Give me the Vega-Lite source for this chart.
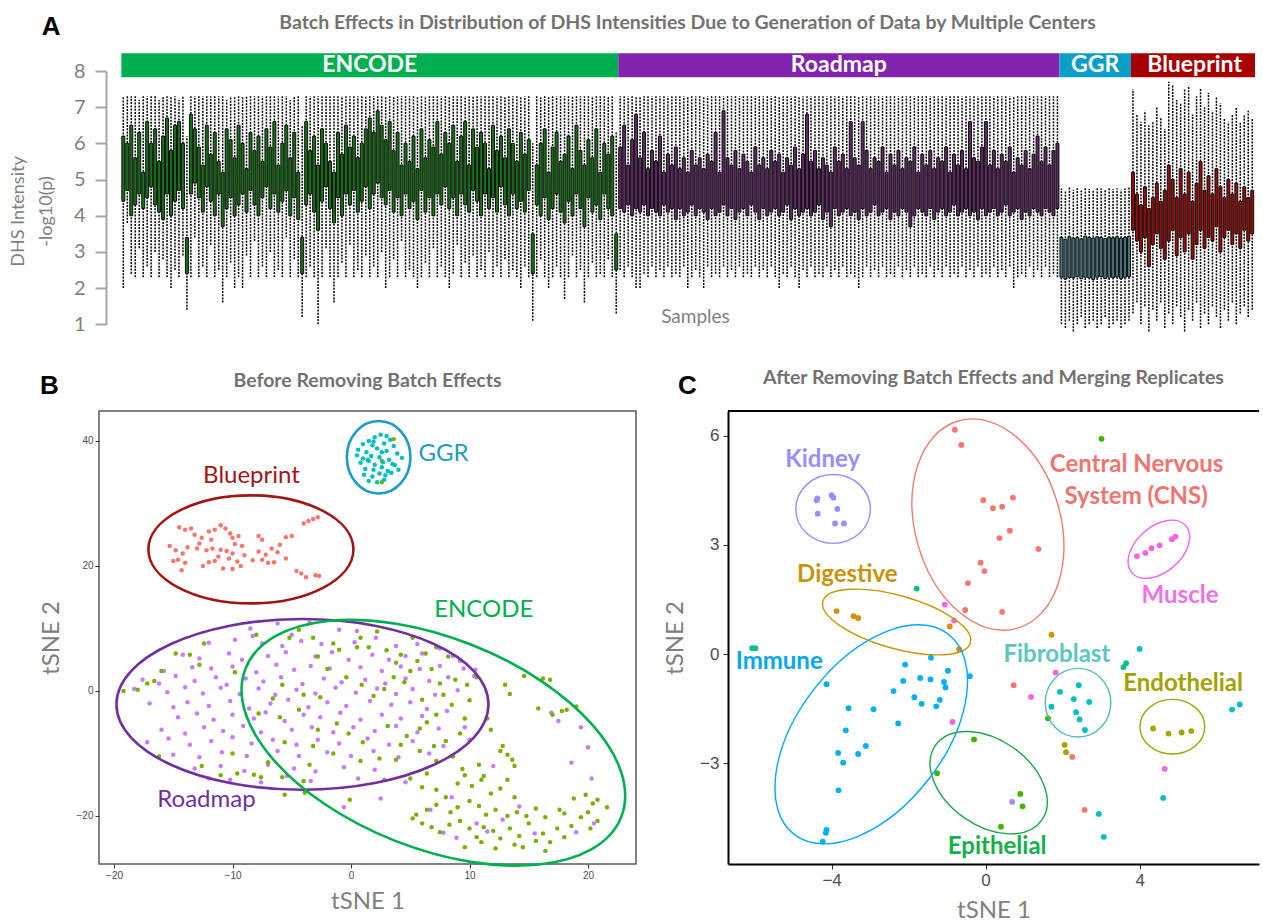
{
"$schema": "https://vega.github.io/schema/vega-lite/v6.json",
"padding": {"left": 9, "top": 12, "right": 0, "bottom": 0},
"background": "white",
"config": {"view": {"stroke": null}, "font": "Lato", "axis": {"grid": false, "labelOverlap": false}},
"datasets": {
"samples": [
{"s":1,"g":"ENCODE","lo":2.0,"q1":4.4,"q3":6.2,"hi":7.3},{"s":2,"g":"ENCODE","lo":3.8,"q1":4.7,"q3":6.0,"hi":7.3},{"s":3,"g":"ENCODE","lo":2.4,"q1":4.0,"q3":6.5,"hi":7.3},{"s":4,"g":"ENCODE","lo":2.3,"q1":4.3,"q3":5.6,"hi":7.3},{"s":5,"g":"ENCODE","lo":3.1,"q1":4.6,"q3":6.3,"hi":7.2},{"s":6,"g":"ENCODE","lo":2.3,"q1":4.2,"q3":5.2,"hi":7.3},{"s":7,"g":"ENCODE","lo":2.6,"q1":4.5,"q3":6.6,"hi":7.3},{"s":8,"g":"ENCODE","lo":2.3,"q1":4.8,"q3":6.0,"hi":7.3},{"s":9,"g":"ENCODE","lo":3.0,"q1":4.3,"q3":6.4,"hi":7.3},{"s":10,"g":"ENCODE","lo":2.3,"q1":4.1,"q3":5.5,"hi":7.2},
{"s":11,"g":"ENCODE","lo":2.8,"q1":3.9,"q3":6.2,"hi":7.3},{"s":12,"g":"ENCODE","lo":2.3,"q1":4.6,"q3":6.7,"hi":7.3},{"s":13,"g":"ENCODE","lo":2.0,"q1":4.0,"q3":5.8,"hi":7.3},{"s":14,"g":"ENCODE","lo":2.5,"q1":4.4,"q3":6.5,"hi":7.3},{"s":15,"g":"ENCODE","lo":2.3,"q1":4.7,"q3":6.6,"hi":7.2},{"s":16,"g":"ENCODE","lo":2.9,"q1":4.2,"q3":6.0,"hi":7.3},{"s":17,"g":"ENCODE","lo":1.4,"q1":2.4,"q3":3.4,"hi":6.2},{"s":18,"g":"ENCODE","lo":2.3,"q1":4.6,"q3":6.8,"hi":7.3},{"s":19,"g":"ENCODE","lo":3.4,"q1":4.9,"q3":6.4,"hi":7.3},{"s":20,"g":"ENCODE","lo":2.3,"q1":4.5,"q3":5.9,"hi":7.3},
{"s":21,"g":"ENCODE","lo":2.6,"q1":4.1,"q3":5.4,"hi":7.3},{"s":22,"g":"ENCODE","lo":2.3,"q1":4.8,"q3":6.5,"hi":7.3},{"s":23,"g":"ENCODE","lo":3.2,"q1":4.4,"q3":5.7,"hi":7.3},{"s":24,"g":"ENCODE","lo":2.3,"q1":4.0,"q3":6.3,"hi":7.3},{"s":25,"g":"ENCODE","lo":2.5,"q1":4.6,"q3":5.5,"hi":7.3},{"s":26,"g":"ENCODE","lo":1.6,"q1":3.7,"q3":5.2,"hi":7.3},{"s":27,"g":"ENCODE","lo":2.3,"q1":4.2,"q3":6.4,"hi":7.2},{"s":28,"g":"ENCODE","lo":2.7,"q1":4.5,"q3":6.1,"hi":7.3},{"s":29,"g":"ENCODE","lo":2.0,"q1":4.0,"q3":5.6,"hi":7.3},{"s":30,"g":"ENCODE","lo":2.3,"q1":4.3,"q3":6.5,"hi":7.3},
{"s":31,"g":"ENCODE","lo":2.0,"q1":4.6,"q3":6.0,"hi":7.3},{"s":32,"g":"ENCODE","lo":2.9,"q1":4.1,"q3":5.3,"hi":7.3},{"s":33,"g":"ENCODE","lo":2.3,"q1":4.7,"q3":6.3,"hi":7.3},{"s":34,"g":"ENCODE","lo":3.3,"q1":4.3,"q3":5.8,"hi":7.3},{"s":35,"g":"ENCODE","lo":2.3,"q1":4.0,"q3":6.2,"hi":7.3},{"s":36,"g":"ENCODE","lo":2.6,"q1":4.5,"q3":5.5,"hi":7.3},{"s":37,"g":"ENCODE","lo":2.3,"q1":4.8,"q3":6.4,"hi":7.3},{"s":38,"g":"ENCODE","lo":3.0,"q1":4.2,"q3":5.9,"hi":7.3},{"s":39,"g":"ENCODE","lo":2.3,"q1":4.6,"q3":6.6,"hi":7.3},{"s":40,"g":"ENCODE","lo":2.5,"q1":4.1,"q3":5.4,"hi":7.3},
{"s":41,"g":"ENCODE","lo":2.3,"q1":4.4,"q3":6.0,"hi":7.3},{"s":42,"g":"ENCODE","lo":3.4,"q1":4.7,"q3":6.5,"hi":7.3},{"s":43,"g":"ENCODE","lo":2.3,"q1":4.0,"q3":5.6,"hi":7.2},{"s":44,"g":"ENCODE","lo":2.8,"q1":4.5,"q3":6.3,"hi":7.3},{"s":45,"g":"ENCODE","lo":2.3,"q1":3.9,"q3":5.2,"hi":7.3},{"s":46,"g":"ENCODE","lo":1.2,"q1":2.4,"q3":3.4,"hi":6.5},{"s":47,"g":"ENCODE","lo":2.3,"q1":4.3,"q3":6.6,"hi":7.3},{"s":48,"g":"ENCODE","lo":2.6,"q1":4.6,"q3":5.8,"hi":7.3},{"s":49,"g":"ENCODE","lo":2.3,"q1":4.1,"q3":6.2,"hi":7.3},{"s":50,"g":"ENCODE","lo":1.0,"q1":3.6,"q3":5.4,"hi":7.3},
{"s":51,"g":"ENCODE","lo":2.3,"q1":4.4,"q3":6.4,"hi":7.3},{"s":52,"g":"ENCODE","lo":3.1,"q1":4.8,"q3":6.0,"hi":7.3},{"s":53,"g":"ENCODE","lo":2.3,"q1":4.2,"q3":5.5,"hi":7.3},{"s":54,"g":"ENCODE","lo":1.6,"q1":3.8,"q3":5.2,"hi":7.3},{"s":55,"g":"ENCODE","lo":2.3,"q1":4.5,"q3":6.3,"hi":7.3},{"s":56,"g":"ENCODE","lo":2.7,"q1":4.0,"q3":5.7,"hi":7.3},{"s":57,"g":"ENCODE","lo":2.3,"q1":4.6,"q3":6.5,"hi":7.3},{"s":58,"g":"ENCODE","lo":3.2,"q1":4.3,"q3":5.9,"hi":7.3},{"s":59,"g":"ENCODE","lo":2.3,"q1":4.7,"q3":6.2,"hi":7.3},{"s":60,"g":"ENCODE","lo":2.5,"q1":4.1,"q3":5.6,"hi":7.3},
{"s":61,"g":"ENCODE","lo":2.3,"q1":4.4,"q3":6.0,"hi":7.3},{"s":62,"g":"ENCODE","lo":2.9,"q1":4.8,"q3":6.4,"hi":7.3},{"s":63,"g":"ENCODE","lo":2.3,"q1":4.2,"q3":6.7,"hi":7.3},{"s":64,"g":"ENCODE","lo":2.6,"q1":4.6,"q3":6.3,"hi":7.3},{"s":65,"g":"ENCODE","lo":2.3,"q1":4.9,"q3":6.9,"hi":7.3},{"s":66,"g":"ENCODE","lo":3.0,"q1":4.5,"q3":6.5,"hi":7.3},{"s":67,"g":"ENCODE","lo":2.0,"q1":4.3,"q3":6.1,"hi":7.3},{"s":68,"g":"ENCODE","lo":2.3,"q1":4.7,"q3":6.6,"hi":7.3},{"s":69,"g":"ENCODE","lo":2.8,"q1":4.1,"q3":5.8,"hi":7.3},{"s":70,"g":"ENCODE","lo":2.3,"q1":4.5,"q3":6.3,"hi":7.3},
{"s":71,"g":"ENCODE","lo":3.3,"q1":4.0,"q3":5.4,"hi":7.3},{"s":72,"g":"ENCODE","lo":2.3,"q1":4.6,"q3":6.0,"hi":7.3},{"s":73,"g":"ENCODE","lo":2.5,"q1":4.2,"q3":5.5,"hi":7.3},{"s":74,"g":"ENCODE","lo":2.3,"q1":4.4,"q3":6.2,"hi":7.3},{"s":75,"g":"ENCODE","lo":2.0,"q1":3.9,"q3":5.3,"hi":7.3},{"s":76,"g":"ENCODE","lo":2.3,"q1":4.7,"q3":6.4,"hi":7.3},{"s":77,"g":"ENCODE","lo":2.7,"q1":4.1,"q3":5.6,"hi":7.3},{"s":78,"g":"ENCODE","lo":2.3,"q1":4.5,"q3":6.1,"hi":7.3},{"s":79,"g":"ENCODE","lo":3.1,"q1":4.0,"q3":5.9,"hi":7.3},{"s":80,"g":"ENCODE","lo":2.3,"q1":4.6,"q3":6.6,"hi":7.3},
{"s":81,"g":"ENCODE","lo":2.6,"q1":4.3,"q3":5.7,"hi":7.3},{"s":82,"g":"ENCODE","lo":2.3,"q1":4.8,"q3":6.3,"hi":7.3},{"s":83,"g":"ENCODE","lo":2.0,"q1":4.2,"q3":6.0,"hi":7.3},{"s":84,"g":"ENCODE","lo":2.4,"q1":4.5,"q3":6.5,"hi":7.3},{"s":85,"g":"ENCODE","lo":3.2,"q1":4.0,"q3":5.5,"hi":7.3},{"s":86,"g":"ENCODE","lo":2.3,"q1":4.6,"q3":6.2,"hi":7.3},{"s":87,"g":"ENCODE","lo":2.7,"q1":4.3,"q3":6.6,"hi":7.3},{"s":88,"g":"ENCODE","lo":2.3,"q1":4.1,"q3":5.4,"hi":7.3},{"s":89,"g":"ENCODE","lo":2.9,"q1":4.7,"q3":6.4,"hi":7.3},{"s":90,"g":"ENCODE","lo":2.3,"q1":4.4,"q3":5.9,"hi":7.3},
{"s":91,"g":"ENCODE","lo":2.5,"q1":4.0,"q3":6.3,"hi":7.3},{"s":92,"g":"ENCODE","lo":2.3,"q1":4.6,"q3":6.0,"hi":7.3},{"s":93,"g":"ENCODE","lo":3.0,"q1":4.2,"q3":5.3,"hi":7.3},{"s":94,"g":"ENCODE","lo":2.3,"q1":4.5,"q3":6.5,"hi":7.3},{"s":95,"g":"ENCODE","lo":2.6,"q1":4.1,"q3":5.8,"hi":7.3},{"s":96,"g":"ENCODE","lo":2.3,"q1":4.8,"q3":6.2,"hi":7.3},{"s":97,"g":"ENCODE","lo":2.8,"q1":4.3,"q3":5.6,"hi":7.3},{"s":98,"g":"ENCODE","lo":2.3,"q1":4.0,"q3":6.4,"hi":7.3},{"s":99,"g":"ENCODE","lo":2.5,"q1":4.6,"q3":6.0,"hi":7.3},{"s":100,"g":"ENCODE","lo":2.3,"q1":4.2,"q3":5.5,"hi":7.3},
{"s":101,"g":"ENCODE","lo":2.0,"q1":4.4,"q3":6.3,"hi":7.3},{"s":102,"g":"ENCODE","lo":2.6,"q1":4.1,"q3":5.7,"hi":7.3},{"s":103,"g":"ENCODE","lo":2.3,"q1":4.7,"q3":6.1,"hi":7.3},{"s":104,"g":"ENCODE","lo":1.1,"q1":2.4,"q3":3.5,"hi":6.0},{"s":105,"g":"ENCODE","lo":2.3,"q1":4.3,"q3":5.4,"hi":7.3},{"s":106,"g":"ENCODE","lo":2.8,"q1":4.0,"q3":6.0,"hi":7.3},{"s":107,"g":"ENCODE","lo":2.3,"q1":4.5,"q3":6.4,"hi":7.3},{"s":108,"g":"ENCODE","lo":2.0,"q1":3.9,"q3":5.2,"hi":7.3},{"s":109,"g":"ENCODE","lo":2.3,"q1":4.2,"q3":5.9,"hi":7.3},{"s":110,"g":"ENCODE","lo":2.6,"q1":4.6,"q3":6.3,"hi":7.3},
{"s":111,"g":"ENCODE","lo":2.3,"q1":4.1,"q3":5.5,"hi":7.3},{"s":112,"g":"ENCODE","lo":1.7,"q1":3.8,"q3":5.7,"hi":7.3},{"s":113,"g":"ENCODE","lo":2.3,"q1":4.4,"q3":6.2,"hi":7.3},{"s":114,"g":"ENCODE","lo":2.9,"q1":4.0,"q3":5.3,"hi":7.3},{"s":115,"g":"ENCODE","lo":2.3,"q1":4.6,"q3":6.5,"hi":7.3},{"s":116,"g":"ENCODE","lo":2.5,"q1":4.2,"q3":5.8,"hi":7.3},{"s":117,"g":"ENCODE","lo":1.6,"q1":3.7,"q3":5.4,"hi":7.3},{"s":118,"g":"ENCODE","lo":2.3,"q1":4.5,"q3":6.1,"hi":7.3},{"s":119,"g":"ENCODE","lo":2.7,"q1":4.1,"q3":5.6,"hi":7.3},{"s":120,"g":"ENCODE","lo":2.3,"q1":4.3,"q3":6.4,"hi":7.3},
{"s":121,"g":"ENCODE","lo":2.4,"q1":3.9,"q3":5.2,"hi":7.3},{"s":122,"g":"ENCODE","lo":2.3,"q1":4.6,"q3":6.0,"hi":7.3},{"s":123,"g":"ENCODE","lo":2.8,"q1":4.2,"q3":5.7,"hi":7.3},{"s":124,"g":"ENCODE","lo":2.3,"q1":4.0,"q3":6.2,"hi":7.3},{"s":125,"g":"ENCODE","lo":1.3,"q1":2.5,"q3":3.5,"hi":6.3},
{"s":126,"g":"Roadmap","lo":2.5,"q1":4.2,"q3":5.9,"hi":7.3},{"s":127,"g":"Roadmap","lo":2.3,"q1":4.1,"q3":6.5,"hi":7.3},{"s":128,"g":"Roadmap","lo":2.6,"q1":4.3,"q3":5.4,"hi":7.3},{"s":129,"g":"Roadmap","lo":2.3,"q1":4.0,"q3":6.1,"hi":7.3},{"s":130,"g":"Roadmap","lo":2.0,"q1":4.2,"q3":6.8,"hi":7.3},
{"s":131,"g":"Roadmap","lo":2.0,"q1":4.1,"q3":5.6,"hi":7.3},{"s":132,"g":"Roadmap","lo":2.4,"q1":4.3,"q3":6.3,"hi":7.3},{"s":133,"g":"Roadmap","lo":2.3,"q1":4.0,"q3":5.3,"hi":7.3},{"s":134,"g":"Roadmap","lo":2.6,"q1":4.2,"q3":5.8,"hi":7.3},{"s":135,"g":"Roadmap","lo":2.3,"q1":4.1,"q3":5.5,"hi":7.3},{"s":136,"g":"Roadmap","lo":2.5,"q1":4.0,"q3":6.2,"hi":7.3},{"s":137,"g":"Roadmap","lo":2.3,"q1":4.3,"q3":5.2,"hi":7.3},{"s":138,"g":"Roadmap","lo":2.6,"q1":4.1,"q3":5.7,"hi":7.3},{"s":139,"g":"Roadmap","lo":2.3,"q1":4.2,"q3":5.4,"hi":7.3},{"s":140,"g":"Roadmap","lo":2.4,"q1":3.9,"q3":5.9,"hi":7.3},
{"s":141,"g":"Roadmap","lo":2.3,"q1":4.2,"q3":5.3,"hi":7.3},{"s":142,"g":"Roadmap","lo":2.6,"q1":4.0,"q3":5.6,"hi":7.3},{"s":143,"g":"Roadmap","lo":2.0,"q1":4.1,"q3":5.2,"hi":7.3},{"s":144,"g":"Roadmap","lo":2.3,"q1":4.3,"q3":5.8,"hi":7.3},{"s":145,"g":"Roadmap","lo":2.5,"q1":4.0,"q3":5.4,"hi":7.3},{"s":146,"g":"Roadmap","lo":2.3,"q1":4.2,"q3":5.6,"hi":7.3},{"s":147,"g":"Roadmap","lo":2.0,"q1":4.1,"q3":5.3,"hi":7.3},{"s":148,"g":"Roadmap","lo":2.6,"q1":3.9,"q3":5.7,"hi":7.3},{"s":149,"g":"Roadmap","lo":2.3,"q1":4.2,"q3":5.5,"hi":7.3},{"s":150,"g":"Roadmap","lo":2.4,"q1":4.0,"q3":6.3,"hi":7.3},
{"s":151,"g":"Roadmap","lo":2.3,"q1":4.1,"q3":5.2,"hi":7.3},{"s":152,"g":"Roadmap","lo":2.6,"q1":4.3,"q3":6.9,"hi":7.3},{"s":153,"g":"Roadmap","lo":2.3,"q1":4.0,"q3":5.6,"hi":7.3},{"s":154,"g":"Roadmap","lo":2.5,"q1":4.2,"q3":5.4,"hi":7.3},{"s":155,"g":"Roadmap","lo":2.3,"q1":3.9,"q3":5.8,"hi":7.3},{"s":156,"g":"Roadmap","lo":2.6,"q1":4.1,"q3":5.3,"hi":7.3},{"s":157,"g":"Roadmap","lo":2.3,"q1":4.2,"q3":5.7,"hi":7.3},{"s":158,"g":"Roadmap","lo":2.4,"q1":4.0,"q3":5.5,"hi":7.3},{"s":159,"g":"Roadmap","lo":2.3,"q1":4.3,"q3":5.2,"hi":7.3},{"s":160,"g":"Roadmap","lo":2.6,"q1":4.1,"q3":5.9,"hi":7.3},
{"s":161,"g":"Roadmap","lo":2.3,"q1":3.9,"q3":5.4,"hi":7.3},{"s":162,"g":"Roadmap","lo":2.5,"q1":4.2,"q3":5.6,"hi":7.3},{"s":163,"g":"Roadmap","lo":2.3,"q1":4.0,"q3":5.3,"hi":7.3},{"s":164,"g":"Roadmap","lo":2.6,"q1":4.1,"q3":5.8,"hi":7.3},{"s":165,"g":"Roadmap","lo":2.3,"q1":4.2,"q3":5.5,"hi":7.3},{"s":166,"g":"Roadmap","lo":2.0,"q1":4.0,"q3":5.7,"hi":7.3},{"s":167,"g":"Roadmap","lo":2.4,"q1":4.1,"q3":5.2,"hi":7.3},{"s":168,"g":"Roadmap","lo":2.3,"q1":4.3,"q3":5.6,"hi":7.3},{"s":169,"g":"Roadmap","lo":2.6,"q1":3.9,"q3":5.4,"hi":7.3},{"s":170,"g":"Roadmap","lo":2.3,"q1":4.2,"q3":5.9,"hi":7.3},
{"s":171,"g":"Roadmap","lo":2.0,"q1":4.0,"q3":5.3,"hi":7.3},{"s":172,"g":"Roadmap","lo":2.5,"q1":4.1,"q3":5.7,"hi":7.3},{"s":173,"g":"Roadmap","lo":2.3,"q1":4.2,"q3":6.8,"hi":7.3},{"s":174,"g":"Roadmap","lo":2.6,"q1":4.0,"q3":5.5,"hi":7.3},{"s":175,"g":"Roadmap","lo":2.3,"q1":4.1,"q3":5.8,"hi":7.3},{"s":176,"g":"Roadmap","lo":2.4,"q1":4.3,"q3":5.3,"hi":7.3},{"s":177,"g":"Roadmap","lo":2.3,"q1":3.9,"q3":5.6,"hi":7.3},{"s":178,"g":"Roadmap","lo":2.6,"q1":4.1,"q3":5.4,"hi":7.3},{"s":179,"g":"Roadmap","lo":2.3,"q1":3.7,"q3":5.2,"hi":7.3},{"s":180,"g":"Roadmap","lo":2.5,"q1":4.2,"q3":5.9,"hi":7.3},
{"s":181,"g":"Roadmap","lo":2.3,"q1":4.0,"q3":5.5,"hi":7.3},{"s":182,"g":"Roadmap","lo":2.6,"q1":4.1,"q3":5.7,"hi":7.3},{"s":183,"g":"Roadmap","lo":2.3,"q1":4.2,"q3":5.3,"hi":7.3},{"s":184,"g":"Roadmap","lo":2.4,"q1":4.0,"q3":6.6,"hi":7.3},{"s":185,"g":"Roadmap","lo":2.3,"q1":4.1,"q3":5.6,"hi":7.3},{"s":186,"g":"Roadmap","lo":2.0,"q1":3.9,"q3":5.4,"hi":7.3},{"s":187,"g":"Roadmap","lo":2.3,"q1":4.2,"q3":6.6,"hi":7.3},{"s":188,"g":"Roadmap","lo":2.6,"q1":4.0,"q3":5.8,"hi":7.3},{"s":189,"g":"Roadmap","lo":2.3,"q1":4.1,"q3":5.3,"hi":7.3},{"s":190,"g":"Roadmap","lo":2.5,"q1":4.3,"q3":5.6,"hi":7.3},
{"s":191,"g":"Roadmap","lo":2.3,"q1":4.0,"q3":5.5,"hi":7.3},{"s":192,"g":"Roadmap","lo":2.6,"q1":4.1,"q3":5.9,"hi":7.3},{"s":193,"g":"Roadmap","lo":2.3,"q1":4.2,"q3":5.2,"hi":7.3},{"s":194,"g":"Roadmap","lo":2.4,"q1":3.9,"q3":5.7,"hi":7.3},{"s":195,"g":"Roadmap","lo":2.3,"q1":4.1,"q3":5.4,"hi":7.3},{"s":196,"g":"Roadmap","lo":2.6,"q1":4.0,"q3":5.8,"hi":7.3},{"s":197,"g":"Roadmap","lo":2.3,"q1":4.2,"q3":5.3,"hi":7.3},{"s":198,"g":"Roadmap","lo":2.5,"q1":4.1,"q3":5.6,"hi":7.3},{"s":199,"g":"Roadmap","lo":2.3,"q1":3.7,"q3":5.5,"hi":7.3},{"s":200,"g":"Roadmap","lo":2.6,"q1":4.0,"q3":5.9,"hi":7.3},
{"s":201,"g":"Roadmap","lo":2.3,"q1":4.2,"q3":5.2,"hi":7.3},{"s":202,"g":"Roadmap","lo":2.4,"q1":4.1,"q3":5.7,"hi":7.3},{"s":203,"g":"Roadmap","lo":2.3,"q1":4.0,"q3":5.4,"hi":7.3},{"s":204,"g":"Roadmap","lo":2.6,"q1":4.2,"q3":5.8,"hi":7.3},{"s":205,"g":"Roadmap","lo":2.3,"q1":3.9,"q3":5.3,"hi":7.3},{"s":206,"g":"Roadmap","lo":2.5,"q1":4.1,"q3":5.6,"hi":7.3},{"s":207,"g":"Roadmap","lo":2.3,"q1":4.2,"q3":5.5,"hi":7.3},{"s":208,"g":"Roadmap","lo":2.6,"q1":4.0,"q3":5.9,"hi":7.3},{"s":209,"g":"Roadmap","lo":2.3,"q1":4.1,"q3":5.2,"hi":7.3},{"s":210,"g":"Roadmap","lo":2.4,"q1":4.3,"q3":5.7,"hi":7.3},
{"s":211,"g":"Roadmap","lo":2.3,"q1":4.0,"q3":5.4,"hi":7.3},{"s":212,"g":"Roadmap","lo":2.6,"q1":4.1,"q3":5.8,"hi":7.3},{"s":213,"g":"Roadmap","lo":2.3,"q1":4.2,"q3":5.3,"hi":7.3},{"s":214,"g":"Roadmap","lo":2.5,"q1":4.0,"q3":6.6,"hi":7.3},{"s":215,"g":"Roadmap","lo":2.3,"q1":4.1,"q3":5.6,"hi":7.3},{"s":216,"g":"Roadmap","lo":2.6,"q1":3.9,"q3":5.5,"hi":7.3},{"s":217,"g":"Roadmap","lo":2.3,"q1":4.2,"q3":5.9,"hi":7.3},{"s":218,"g":"Roadmap","lo":2.4,"q1":4.0,"q3":6.6,"hi":7.3},{"s":219,"g":"Roadmap","lo":2.3,"q1":4.1,"q3":5.4,"hi":7.3},{"s":220,"g":"Roadmap","lo":2.6,"q1":4.2,"q3":5.8,"hi":7.3},
{"s":221,"g":"Roadmap","lo":2.3,"q1":4.0,"q3":5.3,"hi":7.3},{"s":222,"g":"Roadmap","lo":2.5,"q1":4.1,"q3":5.7,"hi":7.3},{"s":223,"g":"Roadmap","lo":2.3,"q1":4.3,"q3":5.5,"hi":7.3},{"s":224,"g":"Roadmap","lo":2.6,"q1":4.0,"q3":5.9,"hi":7.3},{"s":225,"g":"Roadmap","lo":2.0,"q1":4.1,"q3":5.2,"hi":7.3},{"s":226,"g":"Roadmap","lo":2.3,"q1":4.2,"q3":5.6,"hi":7.3},{"s":227,"g":"Roadmap","lo":2.4,"q1":3.9,"q3":5.4,"hi":7.3},{"s":228,"g":"Roadmap","lo":2.3,"q1":4.1,"q3":5.8,"hi":7.3},{"s":229,"g":"Roadmap","lo":2.6,"q1":4.0,"q3":5.3,"hi":7.3},{"s":230,"g":"Roadmap","lo":2.3,"q1":4.2,"q3":5.7,"hi":7.3},
{"s":231,"g":"Roadmap","lo":2.5,"q1":4.1,"q3":6.2,"hi":7.3},{"s":232,"g":"Roadmap","lo":2.3,"q1":4.0,"q3":5.5,"hi":7.3},{"s":233,"g":"Roadmap","lo":2.6,"q1":4.2,"q3":5.9,"hi":7.3},{"s":234,"g":"Roadmap","lo":2.3,"q1":4.1,"q3":5.4,"hi":7.3},{"s":235,"g":"Roadmap","lo":2.4,"q1":4.0,"q3":5.8,"hi":7.3},{"s":236,"g":"Roadmap","lo":2.3,"q1":4.2,"q3":6.0,"hi":7.3},
{"s":237,"g":"GGR","lo":1.0,"q1":2.3,"q3":3.4,"hi":4.75},{"s":238,"g":"GGR","lo":0.9,"q1":2.25,"q3":3.35,"hi":4.7},{"s":239,"g":"GGR","lo":1.1,"q1":2.3,"q3":3.42,"hi":4.78},{"s":240,"g":"GGR","lo":0.8,"q1":2.28,"q3":3.38,"hi":4.72},{"s":241,"g":"GGR","lo":1.0,"q1":2.32,"q3":3.4,"hi":4.76},{"s":242,"g":"GGR","lo":1.2,"q1":2.26,"q3":3.36,"hi":4.7},{"s":243,"g":"GGR","lo":0.9,"q1":2.3,"q3":3.44,"hi":4.8},{"s":244,"g":"GGR","lo":1.0,"q1":2.28,"q3":3.4,"hi":4.74},{"s":245,"g":"GGR","lo":1.1,"q1":2.24,"q3":3.38,"hi":4.72},{"s":246,"g":"GGR","lo":0.9,"q1":2.3,"q3":3.42,"hi":4.78},
{"s":247,"g":"GGR","lo":1.0,"q1":2.32,"q3":3.4,"hi":4.75},{"s":248,"g":"GGR","lo":1.2,"q1":2.27,"q3":3.37,"hi":4.71},{"s":249,"g":"GGR","lo":0.9,"q1":2.3,"q3":3.41,"hi":4.77},{"s":250,"g":"GGR","lo":1.0,"q1":2.29,"q3":3.39,"hi":4.73},{"s":251,"g":"GGR","lo":1.1,"q1":2.31,"q3":3.42,"hi":4.76},{"s":252,"g":"GGR","lo":0.9,"q1":2.26,"q3":3.38,"hi":4.72},{"s":253,"g":"GGR","lo":1.0,"q1":2.3,"q3":3.4,"hi":4.75},{"s":254,"g":"GGR","lo":1.1,"q1":2.32,"q3":3.43,"hi":4.78},
{"s":255,"g":"Blueprint","lo":1.3,"q1":3.6,"q3":5.2,"hi":7.5},{"s":256,"g":"Blueprint","lo":1.6,"q1":3.3,"q3":4.6,"hi":6.8},{"s":257,"g":"Blueprint","lo":1.0,"q1":3.0,"q3":4.3,"hi":6.6},{"s":258,"g":"Blueprint","lo":1.5,"q1":3.4,"q3":4.8,"hi":6.9},{"s":259,"g":"Blueprint","lo":0.8,"q1":2.6,"q3":4.2,"hi":6.5},{"s":260,"g":"Blueprint","lo":1.4,"q1":3.2,"q3":4.5,"hi":6.6},
{"s":261,"g":"Blueprint","lo":1.1,"q1":3.5,"q3":4.9,"hi":7.0},{"s":262,"g":"Blueprint","lo":1.6,"q1":3.1,"q3":4.4,"hi":6.7},{"s":263,"g":"Blueprint","lo":0.9,"q1":2.8,"q3":4.7,"hi":6.4},{"s":264,"g":"Blueprint","lo":1.3,"q1":3.3,"q3":5.4,"hi":7.7},{"s":265,"g":"Blueprint","lo":1.0,"q1":3.6,"q3":5.0,"hi":7.6},{"s":266,"g":"Blueprint","lo":1.5,"q1":2.9,"q3":4.5,"hi":7.2},{"s":267,"g":"Blueprint","lo":1.2,"q1":3.4,"q3":5.3,"hi":7.1},{"s":268,"g":"Blueprint","lo":0.8,"q1":3.0,"q3":4.6,"hi":7.5},{"s":269,"g":"Blueprint","lo":1.4,"q1":3.5,"q3":5.2,"hi":7.6},{"s":270,"g":"Blueprint","lo":1.1,"q1":2.8,"q3":4.4,"hi":6.8},
{"s":271,"g":"Blueprint","lo":1.6,"q1":3.2,"q3":4.9,"hi":7.3},{"s":272,"g":"Blueprint","lo":0.9,"q1":3.6,"q3":5.5,"hi":7.5},{"s":273,"g":"Blueprint","lo":1.3,"q1":3.1,"q3":4.7,"hi":7.0},{"s":274,"g":"Blueprint","lo":1.0,"q1":3.4,"q3":5.1,"hi":7.4},{"s":275,"g":"Blueprint","lo":1.5,"q1":3.3,"q3":4.6,"hi":6.9},{"s":276,"g":"Blueprint","lo":1.2,"q1":3.7,"q3":5.3,"hi":7.3},{"s":277,"g":"Blueprint","lo":0.9,"q1":3.0,"q3":4.8,"hi":7.1},{"s":278,"g":"Blueprint","lo":1.4,"q1":3.4,"q3":4.5,"hi":6.7},{"s":279,"g":"Blueprint","lo":1.1,"q1":3.6,"q3":5.0,"hi":6.6},{"s":280,"g":"Blueprint","lo":1.6,"q1":3.2,"q3":4.6,"hi":6.8},
{"s":281,"g":"Blueprint","lo":1.0,"q1":3.5,"q3":4.9,"hi":7.0},{"s":282,"g":"Blueprint","lo":1.3,"q1":3.1,"q3":4.4,"hi":6.6},{"s":283,"g":"Blueprint","lo":1.5,"q1":3.6,"q3":4.8,"hi":6.8},{"s":284,"g":"Blueprint","lo":1.2,"q1":3.3,"q3":4.5,"hi":6.9},{"s":285,"g":"Blueprint","lo":1.4,"q1":3.5,"q3":4.7,"hi":6.7}
],
"bpts": [
{"x":-8.5,"y":10.0,"g":"Roadmap"},{"x":-6.2,"y":10.8,"g":"Roadmap"},{"x":-3.5,"y":10.9,"g":"Roadmap"},{"x":-1.0,"y":9.8,"g":"Roadmap"},{"x":0.5,"y":9.6,"g":"Roadmap"},{"x":-5.0,"y":9.0,"g":"Roadmap"},{"x":-8.3,"y":8.8,"g":"Roadmap"},
{"x":-12.0,"y":7.7,"g":"Roadmap"},{"x":-9.8,"y":8.2,"g":"Roadmap"},{"x":-7.5,"y":7.6,"g":"Roadmap"},{"x":-5.8,"y":7.2,"g":"Roadmap"},{"x":-4.2,"y":8.0,"g":"Roadmap"},{"x":-2.5,"y":7.5,"g":"Roadmap"},{"x":0.3,"y":7.8,"g":"Roadmap"},{"x":2.1,"y":8.5,"g":"Roadmap"},{"x":3.8,"y":7.2,"g":"Roadmap"},{"x":5.6,"y":7.5,"g":"Roadmap"},{"x":7.5,"y":6.8,"g":"Roadmap"},
{"x":-14.2,"y":5.8,"g":"Roadmap"},{"x":-12.8,"y":5.2,"g":"Roadmap"},{"x":-10.3,"y":6.0,"g":"Roadmap"},{"x":-9.2,"y":5.0,"g":"Roadmap"},{"x":-7.0,"y":5.6,"g":"Roadmap"},{"x":-5.5,"y":6.2,"g":"Roadmap"},{"x":-3.0,"y":5.5,"g":"Roadmap"},{"x":-1.6,"y":6.2,"g":"Roadmap"},{"x":-0.2,"y":5.0,"g":"Roadmap"},{"x":1.8,"y":5.8,"g":"Roadmap"},{"x":3.2,"y":5.0,"g":"Roadmap"},{"x":4.6,"y":5.6,"g":"Roadmap"},{"x":6.0,"y":6.0,"g":"Roadmap"},{"x":8.6,"y":5.6,"g":"Roadmap"},{"x":9.2,"y":4.8,"g":"Roadmap"},
{"x":-15.8,"y":3.2,"g":"Roadmap"},{"x":-13.4,"y":3.8,"g":"Roadmap"},{"x":-11.8,"y":3.6,"g":"Roadmap"},{"x":-10.0,"y":3.9,"g":"Roadmap"},{"x":-8.0,"y":3.0,"g":"Roadmap"},{"x":-6.3,"y":4.2,"g":"Roadmap"},{"x":-4.8,"y":3.4,"g":"Roadmap"},{"x":-3.4,"y":4.0,"g":"Roadmap"},{"x":-1.8,"y":3.6,"g":"Roadmap"},{"x":0.8,"y":3.8,"g":"Roadmap"},{"x":2.6,"y":3.2,"g":"Roadmap"},{"x":4.2,"y":3.9,"g":"Roadmap"},{"x":5.8,"y":3.5,"g":"Roadmap"},{"x":7.5,"y":4.0,"g":"Roadmap"},{"x":9.5,"y":3.6,"g":"Roadmap"},{"x":10.5,"y":3.4,"g":"Roadmap"},
{"x":-17.6,"y":1.8,"g":"Roadmap"},{"x":-16.2,"y":1.2,"g":"Roadmap"},{"x":-14.8,"y":2.4,"g":"Roadmap"},{"x":-13.2,"y":1.6,"g":"Roadmap"},{"x":-11.4,"y":2.2,"g":"Roadmap"},{"x":-10.5,"y":1.0,"g":"Roadmap"},{"x":-8.9,"y":2.0,"g":"Roadmap"},{"x":-7.4,"y":1.5,"g":"Roadmap"},{"x":-5.9,"y":2.2,"g":"Roadmap"},{"x":-4.1,"y":1.1,"g":"Roadmap"},{"x":-2.3,"y":2.0,"g":"Roadmap"},{"x":-0.8,"y":1.4,"g":"Roadmap"},{"x":1.2,"y":1.8,"g":"Roadmap"},{"x":2.9,"y":1.2,"g":"Roadmap"},{"x":4.6,"y":2.0,"g":"Roadmap"},{"x":6.6,"y":1.6,"g":"Roadmap"},{"x":8.2,"y":2.2,"g":"Roadmap"},{"x":10.4,"y":2.4,"g":"Roadmap"},
{"x":-18.3,"y":0.3,"g":"Roadmap"},{"x":-15.5,"y":-0.2,"g":"Roadmap"},{"x":-14.0,"y":0.6,"g":"Roadmap"},{"x":-12.5,"y":-0.4,"g":"Roadmap"},{"x":-11.0,"y":0.5,"g":"Roadmap"},{"x":-9.4,"y":-0.5,"g":"Roadmap"},{"x":-7.8,"y":0.4,"g":"Roadmap"},{"x":-6.4,"y":-0.6,"g":"Roadmap"},{"x":-4.6,"y":0.2,"g":"Roadmap"},{"x":-3.0,"y":-0.4,"g":"Roadmap"},{"x":-1.3,"y":0.5,"g":"Roadmap"},{"x":0.4,"y":-0.3,"g":"Roadmap"},{"x":2.2,"y":0.4,"g":"Roadmap"},{"x":3.8,"y":-0.5,"g":"Roadmap"},{"x":5.2,"y":0.3,"g":"Roadmap"},{"x":7.1,"y":-0.6,"g":"Roadmap"},{"x":9.0,"y":0.1,"g":"Roadmap"},
{"x":-17.0,"y":-2.0,"g":"Roadmap"},{"x":-15.0,"y":-2.6,"g":"Roadmap"},{"x":-13.8,"y":-1.8,"g":"Roadmap"},{"x":-12.0,"y":-2.4,"g":"Roadmap"},{"x":-10.2,"y":-1.6,"g":"Roadmap"},{"x":-8.6,"y":-2.8,"g":"Roadmap"},{"x":-6.8,"y":-2.0,"g":"Roadmap"},{"x":-5.3,"y":-1.4,"g":"Roadmap"},{"x":-3.6,"y":-2.6,"g":"Roadmap"},{"x":-2.0,"y":-1.8,"g":"Roadmap"},{"x":-0.4,"y":-2.4,"g":"Roadmap"},{"x":1.6,"y":-1.6,"g":"Roadmap"},{"x":3.4,"y":-2.2,"g":"Roadmap"},{"x":5.0,"y":-1.8,"g":"Roadmap"},{"x":6.4,"y":-2.9,"g":"Roadmap"},
{"x":-14.6,"y":-4.2,"g":"Roadmap"},{"x":-13.0,"y":-3.6,"g":"Roadmap"},{"x":-11.6,"y":-4.6,"g":"Roadmap"},{"x":-10.0,"y":-3.8,"g":"Roadmap"},{"x":-8.2,"y":-4.4,"g":"Roadmap"},{"x":-7.2,"y":-3.4,"g":"Roadmap"},{"x":-5.6,"y":-4.8,"g":"Roadmap"},{"x":-4.0,"y":-3.8,"g":"Roadmap"},{"x":-2.6,"y":-4.2,"g":"Roadmap"},{"x":-0.9,"y":-3.5,"g":"Roadmap"},{"x":0.8,"y":-4.6,"g":"Roadmap"},{"x":2.6,"y":-3.8,"g":"Roadmap"},{"x":4.2,"y":-4.4,"g":"Roadmap"},{"x":6.0,"y":-4.0,"g":"Roadmap"},{"x":8.1,"y":-3.2,"g":"Roadmap"},
{"x":-16.0,"y":-6.2,"g":"Roadmap"},{"x":-14.0,"y":-6.8,"g":"Roadmap"},{"x":-12.4,"y":-5.8,"g":"Roadmap"},{"x":-10.8,"y":-6.4,"g":"Roadmap"},{"x":-9.1,"y":-5.6,"g":"Roadmap"},{"x":-7.6,"y":-6.6,"g":"Roadmap"},{"x":-5.0,"y":-6.2,"g":"Roadmap"},{"x":-3.3,"y":-5.8,"g":"Roadmap"},{"x":-1.5,"y":-6.6,"g":"Roadmap"},{"x":0.2,"y":-5.8,"g":"Roadmap"},{"x":2.0,"y":-6.4,"g":"Roadmap"},{"x":3.8,"y":-5.6,"g":"Roadmap"},{"x":5.6,"y":-6.6,"g":"Roadmap"},{"x":7.4,"y":-6.0,"g":"Roadmap"},{"x":9.6,"y":-5.8,"g":"Roadmap"},
{"x":-17.2,"y":-8.2,"g":"Roadmap"},{"x":-15.4,"y":-7.6,"g":"Roadmap"},{"x":-13.6,"y":-8.6,"g":"Roadmap"},{"x":-11.8,"y":-8.0,"g":"Roadmap"},{"x":-10.0,"y":-7.4,"g":"Roadmap"},{"x":-8.4,"y":-8.4,"g":"Roadmap"},{"x":-6.6,"y":-7.8,"g":"Roadmap"},{"x":-4.6,"y":-8.6,"g":"Roadmap"},{"x":-2.8,"y":-7.8,"g":"Roadmap"},{"x":-1.0,"y":-8.4,"g":"Roadmap"},{"x":1.4,"y":-7.6,"g":"Roadmap"},{"x":3.2,"y":-8.6,"g":"Roadmap"},{"x":5.2,"y":-8.0,"g":"Roadmap"},{"x":7.8,"y":-8.8,"g":"Roadmap"},{"x":10.0,"y":-7.8,"g":"Roadmap"},
{"x":-15.0,"y":-10.2,"g":"Roadmap"},{"x":-12.8,"y":-10.6,"g":"Roadmap"},{"x":-10.9,"y":-9.8,"g":"Roadmap"},{"x":-8.8,"y":-10.4,"g":"Roadmap"},{"x":-6.2,"y":-9.6,"g":"Roadmap"},{"x":-4.4,"y":-10.4,"g":"Roadmap"},{"x":-2.0,"y":-9.8,"g":"Roadmap"},{"x":0.0,"y":-10.4,"g":"Roadmap"},{"x":1.9,"y":-9.6,"g":"Roadmap"},{"x":4.0,"y":-10.6,"g":"Roadmap"},{"x":6.6,"y":-10.0,"g":"Roadmap"},
{"x":-13.2,"y":-12.4,"g":"Roadmap"},{"x":-11.0,"y":-12.0,"g":"Roadmap"},{"x":-9.0,"y":-12.8,"g":"Roadmap"},{"x":-7.0,"y":-11.8,"g":"Roadmap"},{"x":-4.8,"y":-12.4,"g":"Roadmap"},{"x":-3.0,"y":-12.9,"g":"Roadmap"},{"x":-0.6,"y":-12.2,"g":"Roadmap"},{"x":2.0,"y":-12.6,"g":"Roadmap"},{"x":-5.4,"y":-13.6,"g":"Roadmap"},
{"x":-12.0,"y":-14.0,"g":"Roadmap"},{"x":-10.2,"y":-14.2,"g":"Roadmap"},{"x":-7.6,"y":-14.6,"g":"Roadmap"},{"x":-3.4,"y":-14.4,"g":"Roadmap"},{"x":0.6,"y":-14.0,"g":"Roadmap"},{"x":2.8,"y":-14.2,"g":"Roadmap"},{"x":4.6,"y":-14.6,"g":"Roadmap"},
{"x":2.5,"y":-17.2,"g":"Roadmap"},{"x":-0.6,"y":-18.6,"g":"Roadmap"},{"x":6.7,"y":-19.0,"g":"Roadmap"},{"x":8.5,"y":-17.0,"g":"Roadmap"},
{"x":16.9,"y":-3.5,"g":"Roadmap"},{"x":17.5,"y":-4.8,"g":"Roadmap"},{"x":19.4,"y":-5.8,"g":"Roadmap"},{"x":20.0,"y":-9.0,"g":"Roadmap"},{"x":18.6,"y":-11.5,"g":"Roadmap"},{"x":20.3,"y":-14.0,"g":"Roadmap"},{"x":12.0,"y":-12.0,"g":"Roadmap"},{"x":14.2,"y":-18.5,"g":"Roadmap"},{"x":11.5,"y":-22.5,"g":"Roadmap"},{"x":7.8,"y":-22.7,"g":"Roadmap"},{"x":20.5,"y":-21.2,"g":"Roadmap"},{"x":19.0,"y":-22.6,"g":"Roadmap"},{"x":15.5,"y":-22.8,"g":"Roadmap"},{"x":10.6,"y":-21.2,"g":"Roadmap"},{"x":8.9,"y":-23.5,"g":"Roadmap"},{"x":12.8,"y":-20.6,"g":"Roadmap"},
{"x":-19.2,"y":0.0,"g":"ENCODE"},{"x":-18.0,"y":0.2,"g":"ENCODE"},{"x":-17.2,"y":1.2,"g":"ENCODE"},{"x":-16.6,"y":1.6,"g":"ENCODE"},{"x":-16.0,"y":3.2,"g":"ENCODE"},{"x":-13.6,"y":5.8,"g":"ENCODE"},{"x":-12.8,"y":4.2,"g":"ENCODE"},{"x":-12.4,"y":7.6,"g":"ENCODE"},{"x":-14.8,"y":6.0,"g":"ENCODE"},{"x":-9.8,"y":3.0,"g":"ENCODE"},{"x":-16.2,"y":-10.5,"g":"ENCODE"},{"x":-12.6,"y":-12.0,"g":"ENCODE"},{"x":-11.0,"y":-13.5,"g":"ENCODE"},{"x":-9.6,"y":-13.2,"g":"ENCODE"},{"x":-10.0,"y":-10.0,"g":"ENCODE"},{"x":-7.6,"y":-13.8,"g":"ENCODE"},
{"x":-8.0,"y":9.0,"g":"ENCODE"},{"x":-5.2,"y":8.5,"g":"ENCODE"},{"x":-4.4,"y":9.8,"g":"ENCODE"},{"x":-3.2,"y":8.5,"g":"ENCODE"},{"x":-1.5,"y":7.6,"g":"ENCODE"},{"x":-2.8,"y":5.5,"g":"ENCODE"},{"x":-2.0,"y":3.5,"g":"ENCODE"},{"x":-1.0,"y":6.6,"g":"ENCODE"},{"x":0.5,"y":7.0,"g":"ENCODE"},{"x":0.8,"y":8.5,"g":"ENCODE"},{"x":1.5,"y":7.0,"g":"ENCODE"},{"x":2.2,"y":9.5,"g":"ENCODE"},{"x":3.0,"y":6.5,"g":"ENCODE"},{"x":3.8,"y":4.5,"g":"ENCODE"},{"x":4.2,"y":5.8,"g":"ENCODE"},{"x":5.0,"y":3.2,"g":"ENCODE"},{"x":5.6,"y":4.8,"g":"ENCODE"},{"x":4.5,"y":1.4,"g":"ENCODE"},{"x":3.6,"y":2.2,"g":"ENCODE"},{"x":2.8,"y":0.3,"g":"ENCODE"},
{"x":1.9,"y":-0.8,"g":"ENCODE"},{"x":0.9,"y":1.0,"g":"ENCODE"},{"x":-0.4,"y":2.2,"g":"ENCODE"},{"x":-2.6,"y":-1.0,"g":"ENCODE"},{"x":-4.0,"y":-0.6,"g":"ENCODE"},{"x":-5.8,"y":1.0,"g":"ENCODE"},{"x":-6.6,"y":-1.2,"g":"ENCODE"},{"x":-7.8,"y":-3.6,"g":"ENCODE"},{"x":-6.0,"y":-4.2,"g":"ENCODE"},{"x":-4.4,"y":-3.0,"g":"ENCODE"},{"x":-2.8,"y":-6.2,"g":"ENCODE"},{"x":-1.2,"y":-5.2,"g":"ENCODE"},{"x":-0.2,"y":-6.8,"g":"ENCODE"},{"x":1.0,"y":-8.2,"g":"ENCODE"},{"x":-5.6,"y":-8.2,"g":"ENCODE"},{"x":-3.2,"y":-8.8,"g":"ENCODE"},{"x":-1.5,"y":-10.0,"g":"ENCODE"},{"x":-3.5,"y":-11.8,"g":"ENCODE"},{"x":0.8,"y":-11.2,"g":"ENCODE"},{"x":-7.0,"y":-11.4,"g":"ENCODE"},
{"x":-5.8,"y":-13.8,"g":"ENCODE"},{"x":-4.0,"y":-14.4,"g":"ENCODE"},{"x":-8.2,"y":-13.4,"g":"ENCODE"},{"x":-5.6,"y":-16.6,"g":"ENCODE"},{"x":-0.1,"y":-17.4,"g":"ENCODE"},{"x":-3.9,"y":-16.3,"g":"ENCODE"},{"x":4.2,"y":-8.6,"g":"ENCODE"},{"x":4.7,"y":-7.2,"g":"ENCODE"},{"x":3.1,"y":-5.6,"g":"ENCODE"},{"x":5.8,"y":-6.0,"g":"ENCODE"},{"x":6.4,"y":-5.0,"g":"ENCODE"},{"x":7.2,"y":-3.8,"g":"ENCODE"},{"x":6.0,"y":-1.4,"g":"ENCODE"},{"x":7.5,"y":1.2,"g":"ENCODE"},{"x":6.8,"y":3.5,"g":"ENCODE"},{"x":7.8,"y":-0.6,"g":"ENCODE"},{"x":8.5,"y":-2.2,"g":"ENCODE"},{"x":8.8,"y":1.8,"g":"ENCODE"},{"x":9.8,"y":1.0,"g":"ENCODE"},{"x":8.2,"y":5.5,"g":"ENCODE"},
{"x":7.2,"y":7.0,"g":"ENCODE"},{"x":6.3,"y":6.0,"g":"ENCODE"},{"x":5.2,"y":8.5,"g":"ENCODE"},{"x":10.6,"y":2.2,"g":"ENCODE"},{"x":10.0,"y":-1.5,"g":"ENCODE"},{"x":9.6,"y":-4.4,"g":"ENCODE"},{"x":9.2,"y":-6.8,"g":"ENCODE"},{"x":8.0,"y":-8.0,"g":"ENCODE"},{"x":7.0,"y":-8.8,"g":"ENCODE"},{"x":5.8,"y":-9.6,"g":"ENCODE"},{"x":3.8,"y":-11.0,"g":"ENCODE"},{"x":2.4,"y":-10.8,"g":"ENCODE"},{"x":8.6,"y":-10.5,"g":"ENCODE"},{"x":7.2,"y":-11.2,"g":"ENCODE"},{"x":9.4,"y":-12.5,"g":"ENCODE"},{"x":11.2,"y":-13.6,"g":"ENCODE"},{"x":10.8,"y":-11.8,"g":"ENCODE"},{"x":12.6,"y":-9.6,"g":"ENCODE"},{"x":11.8,"y":-6.2,"g":"ENCODE"},{"x":13.2,"y":-10.2,"g":"ENCODE"},
{"x":13.6,"y":-11.0,"g":"ENCODE"},{"x":12.8,"y":-8.8,"g":"ENCODE"},{"x":13.8,"y":-12.0,"g":"ENCODE"},{"x":11.5,"y":-4.4,"g":"ENCODE"},{"x":14.6,"y":2.4,"g":"ENCODE"},{"x":16.2,"y":2.0,"g":"ENCODE"},{"x":16.8,"y":1.8,"g":"ENCODE"},{"x":13.0,"y":1.0,"g":"ENCODE"},{"x":13.4,"y":-0.5,"g":"ENCODE"},{"x":17.8,"y":-3.2,"g":"ENCODE"},{"x":18.2,"y":-3.0,"g":"ENCODE"},{"x":19.0,"y":-2.5,"g":"ENCODE"},{"x":15.8,"y":-2.8,"g":"ENCODE"},{"x":17.0,"y":-3.8,"g":"ENCODE"},
{"x":5.0,"y":-14.0,"g":"ENCODE"},{"x":6.0,"y":-15.4,"g":"ENCODE"},{"x":6.4,"y":-13.2,"g":"ENCODE"},{"x":7.2,"y":-15.8,"g":"ENCODE"},{"x":8.0,"y":-17.0,"g":"ENCODE"},{"x":9.0,"y":-14.8,"g":"ENCODE"},{"x":9.6,"y":-13.5,"g":"ENCODE"},{"x":10.2,"y":-15.2,"g":"ENCODE"},{"x":11.0,"y":-14.2,"g":"ENCODE"},{"x":11.8,"y":-16.4,"g":"ENCODE"},{"x":12.6,"y":-15.6,"g":"ENCODE"},{"x":13.2,"y":-14.2,"g":"ENCODE"},{"x":13.8,"y":-17.0,"g":"ENCODE"},{"x":10.0,"y":-17.6,"g":"ENCODE"},{"x":9.0,"y":-18.6,"g":"ENCODE"},{"x":8.4,"y":-19.4,"g":"ENCODE"},{"x":7.2,"y":-18.2,"g":"ENCODE"},{"x":6.4,"y":-19.0,"g":"ENCODE"},{"x":5.5,"y":-19.8,"g":"ENCODE"},{"x":5.2,"y":-20.4,"g":"ENCODE"},
{"x":6.0,"y":-21.2,"g":"ENCODE"},{"x":6.8,"y":-21.8,"g":"ENCODE"},{"x":7.5,"y":-22.6,"g":"ENCODE"},{"x":8.3,"y":-21.4,"g":"ENCODE"},{"x":9.2,"y":-20.8,"g":"ENCODE"},{"x":10.0,"y":-22.0,"g":"ENCODE"},{"x":10.6,"y":-23.4,"g":"ENCODE"},{"x":11.2,"y":-21.8,"g":"ENCODE"},{"x":12.0,"y":-22.4,"g":"ENCODE"},{"x":12.6,"y":-23.6,"g":"ENCODE"},{"x":13.4,"y":-22.0,"g":"ENCODE"},{"x":14.2,"y":-23.2,"g":"ENCODE"},{"x":15.0,"y":-21.2,"g":"ENCODE"},{"x":15.6,"y":-24.0,"g":"ENCODE"},{"x":16.2,"y":-22.8,"g":"ENCODE"},{"x":16.8,"y":-24.2,"g":"ENCODE"},{"x":17.4,"y":-22.0,"g":"ENCODE"},{"x":18.0,"y":-23.4,"g":"ENCODE"},{"x":18.6,"y":-21.6,"g":"ENCODE"},{"x":19.4,"y":-20.2,"g":"ENCODE"},
{"x":20.2,"y":-22.0,"g":"ENCODE"},{"x":20.8,"y":-20.8,"g":"ENCODE"},{"x":21.6,"y":-18.6,"g":"ENCODE"},{"x":20.4,"y":-18.0,"g":"ENCODE"},{"x":19.8,"y":-16.6,"g":"ENCODE"},{"x":20.8,"y":-17.4,"g":"ENCODE"},{"x":18.8,"y":-17.2,"g":"ENCODE"},{"x":17.6,"y":-19.0,"g":"ENCODE"},{"x":16.4,"y":-20.2,"g":"ENCODE"},{"x":15.6,"y":-18.8,"g":"ENCODE"},{"x":14.8,"y":-20.0,"g":"ENCODE"},{"x":14.0,"y":-19.4,"g":"ENCODE"},{"x":13.2,"y":-20.0,"g":"ENCODE"},{"x":12.2,"y":-19.0,"g":"ENCODE"},{"x":11.4,"y":-19.8,"g":"ENCODE"},{"x":10.8,"y":-18.4,"g":"ENCODE"},{"x":18.0,"y":-19.6,"g":"ENCODE"},{"x":20.0,"y":-19.4,"g":"ENCODE"},{"x":14.5,"y":-25.0,"g":"ENCODE"},{"x":12.2,"y":-25.2,"g":"ENCODE"},{"x":9.6,"y":-25.0,"g":"ENCODE"},{"x":11.0,"y":-24.2,"g":"ENCODE"},{"x":13.8,"y":-24.6,"g":"ENCODE"},{"x":16.4,"y":-25.6,"g":"ENCODE"},
{"x":3.6,"y":40.3,"g":"ENCODE"},{"x":2.6,"y":36.8,"g":"ENCODE"},{"x":2.6,"y":33.4,"g":"ENCODE"},
{"x":-14.5,"y":26.2,"g":"Blueprint"},{"x":-14.0,"y":25.8,"g":"Blueprint"},{"x":-13.5,"y":26.0,"g":"Blueprint"},{"x":-13.2,"y":25.0,"g":"Blueprint"},{"x":-12.6,"y":24.5,"g":"Blueprint"},{"x":-12.0,"y":25.5,"g":"Blueprint"},{"x":-11.5,"y":25.8,"g":"Blueprint"},{"x":-11.0,"y":26.5,"g":"Blueprint"},{"x":-10.6,"y":26.0,"g":"Blueprint"},{"x":-10.2,"y":25.2,"g":"Blueprint"},{"x":-10.0,"y":24.5,"g":"Blueprint"},{"x":-9.8,"y":23.5,"g":"Blueprint"},{"x":-11.8,"y":24.2,"g":"Blueprint"},{"x":-12.8,"y":23.6,"g":"Blueprint"},{"x":-13.8,"y":23.0,"g":"Blueprint"},{"x":-14.8,"y":22.5,"g":"Blueprint"},
{"x":-15.3,"y":23.2,"g":"Blueprint"},{"x":-14.2,"y":22.0,"g":"Blueprint"},{"x":-14.6,"y":21.0,"g":"Blueprint"},{"x":-15.0,"y":20.8,"g":"Blueprint"},{"x":-14.0,"y":20.5,"g":"Blueprint"},{"x":-14.3,"y":19.3,"g":"Blueprint"},{"x":-13.0,"y":22.8,"g":"Blueprint"},{"x":-12.2,"y":22.5,"g":"Blueprint"},{"x":-11.7,"y":22.8,"g":"Blueprint"},{"x":-11.0,"y":22.6,"g":"Blueprint"},{"x":-10.5,"y":22.4,"g":"Blueprint"},{"x":-10.0,"y":22.0,"g":"Blueprint"},{"x":-11.2,"y":21.5,"g":"Blueprint"},{"x":-12.0,"y":20.6,"g":"Blueprint"},{"x":-12.5,"y":20.0,"g":"Blueprint"},{"x":-11.5,"y":20.8,"g":"Blueprint"},
{"x":-10.8,"y":19.6,"g":"Blueprint"},{"x":-10.3,"y":21.2,"g":"Blueprint"},{"x":-9.6,"y":20.7,"g":"Blueprint"},{"x":-9.3,"y":20.0,"g":"Blueprint"},{"x":-10.0,"y":19.5,"g":"Blueprint"},{"x":-9.0,"y":21.7,"g":"Blueprint"},{"x":-9.2,"y":23.2,"g":"Blueprint"},{"x":-9.5,"y":24.8,"g":"Blueprint"},{"x":-7.8,"y":24.8,"g":"Blueprint"},{"x":-7.5,"y":24.2,"g":"Blueprint"},{"x":-7.8,"y":22.3,"g":"Blueprint"},{"x":-7.2,"y":21.8,"g":"Blueprint"},{"x":-7.0,"y":20.5,"g":"Blueprint"},{"x":-6.7,"y":22.8,"g":"Blueprint"},{"x":-6.5,"y":20.6,"g":"Blueprint"},{"x":-6.2,"y":22.2,"g":"Blueprint"},
{"x":-6.0,"y":23.4,"g":"Blueprint"},{"x":-5.5,"y":21.2,"g":"Blueprint"},{"x":-5.5,"y":24.6,"g":"Blueprint"},{"x":-5.0,"y":24.8,"g":"Blueprint"},{"x":-4.0,"y":26.8,"g":"Blueprint"},{"x":-3.6,"y":27.2,"g":"Blueprint"},{"x":-3.2,"y":27.5,"g":"Blueprint"},{"x":-2.8,"y":27.8,"g":"Blueprint"},{"x":-4.6,"y":19.2,"g":"Blueprint"},{"x":-4.2,"y":18.8,"g":"Blueprint"},{"x":-3.8,"y":18.2,"g":"Blueprint"},{"x":-3.0,"y":18.5,"g":"Blueprint"},{"x":-2.7,"y":18.4,"g":"Blueprint"},{"x":-7.5,"y":21.0,"g":"Blueprint"},{"x":-8.3,"y":20.9,"g":"Blueprint"},
{"x":1.5,"y":40.0,"g":"GGR"},{"x":2.0,"y":40.6,"g":"GGR"},{"x":2.5,"y":41.0,"g":"GGR"},{"x":3.0,"y":40.8,"g":"GGR"},{"x":3.3,"y":40.2,"g":"GGR"},{"x":1.0,"y":39.5,"g":"GGR"},{"x":1.8,"y":39.3,"g":"GGR"},{"x":2.8,"y":39.6,"g":"GGR"},{"x":3.6,"y":39.2,"g":"GGR"},{"x":0.6,"y":38.6,"g":"GGR"},{"x":1.3,"y":38.2,"g":"GGR"},{"x":2.2,"y":38.8,"g":"GGR"},{"x":3.0,"y":38.4,"g":"GGR"},{"x":3.9,"y":38.0,"g":"GGR"},{"x":0.5,"y":37.7,"g":"GGR"},{"x":1.0,"y":37.2,"g":"GGR"},{"x":1.7,"y":37.6,"g":"GGR"},{"x":2.4,"y":37.4,"g":"GGR"},{"x":3.2,"y":37.0,"g":"GGR"},{"x":4.3,"y":37.3,"g":"GGR"},{"x":0.8,"y":36.5,"g":"GGR"},
{"x":1.5,"y":36.8,"g":"GGR"},{"x":2.0,"y":36.2,"g":"GGR"},{"x":2.7,"y":36.6,"g":"GGR"},{"x":3.5,"y":36.3,"g":"GGR"},{"x":1.2,"y":35.5,"g":"GGR"},{"x":1.9,"y":35.4,"g":"GGR"},{"x":2.6,"y":35.8,"g":"GGR"},{"x":3.1,"y":35.2,"g":"GGR"},{"x":4.0,"y":35.4,"g":"GGR"},{"x":1.1,"y":34.6,"g":"GGR"},{"x":1.8,"y":34.3,"g":"GGR"},{"x":2.4,"y":34.8,"g":"GGR"},{"x":2.9,"y":34.5,"g":"GGR"},{"x":3.4,"y":34.9,"g":"GGR"},{"x":1.5,"y":33.6,"g":"GGR"},{"x":2.2,"y":33.4,"g":"GGR"},{"x":2.8,"y":33.8,"g":"GGR"},{"x":1.9,"y":39.9,"g":"GGR"},{"x":2.6,"y":38.2,"g":"GGR"},{"x":1.4,"y":37.0,"g":"GGR"},{"x":3.7,"y":36.1,"g":"GGR"}
],
"cpts": [
{"x":-0.80,"y":6.17,"g":"CNS"},{"x":-0.63,"y":5.75,"g":"CNS"},{"x":-0.06,"y":4.23,"g":"CNS"},{"x":0.19,"y":4.01,"g":"CNS"},{"x":0.43,"y":4.05,"g":"CNS"},{"x":0.71,"y":4.30,"g":"CNS"},{"x":0.36,"y":3.19,"g":"CNS"},{"x":0.63,"y":3.39,"g":"CNS"},{"x":1.37,"y":2.89,"g":"CNS"},{"x":-0.13,"y":2.51,"g":"CNS"},{"x":-0.03,"y":2.28,"g":"CNS"},{"x":-0.46,"y":1.95,"g":"CNS"},{"x":-0.53,"y":1.21,"g":"CNS"},{"x":0.43,"y":1.16,"g":"CNS"},{"x":0.73,"y":-0.86,"g":"CNS"},{"x":2.25,"y":-2.83,"g":"CNS"},{"x":2.57,"y":-4.29,"g":"CNS"},
{"x":-4.39,"y":4.23,"g":"Kidney"},{"x":-4.37,"y":4.28,"g":"Kidney"},{"x":-4.00,"y":4.37,"g":"Kidney"},{"x":-3.95,"y":4.30,"g":"Kidney"},{"x":-3.85,"y":3.99,"g":"Kidney"},{"x":-4.36,"y":3.86,"g":"Kidney"},{"x":-3.91,"y":3.59,"g":"Kidney"},{"x":-3.68,"y":3.59,"g":"Kidney"},{"x":0.69,"y":-4.07,"g":"Kidney"},
{"x":3.93,"y":2.69,"g":"Muscle"},{"x":4.15,"y":2.78,"g":"Muscle"},{"x":4.31,"y":2.91,"g":"Muscle"},{"x":4.52,"y":2.99,"g":"Muscle"},{"x":4.84,"y":3.16,"g":"Muscle"},{"x":4.93,"y":3.23,"g":"Muscle"},{"x":-1.06,"y":1.36,"g":"Muscle"},{"x":-0.82,"y":0.92,"g":"Muscle"},{"x":1.82,"y":-0.51,"g":"Muscle"},{"x":1.18,"y":-1.18,"g":"Muscle"},{"x":-0.86,"y":-1.87,"g":"Muscle"},{"x":4.65,"y":-3.16,"g":"Muscle"},
{"x":-3.87,"y":1.18,"g":"Digestive"},{"x":-3.43,"y":1.04,"g":"Digestive"},{"x":-3.31,"y":0.99,"g":"Digestive"},{"x":-0.93,"y":0.76,"g":"Digestive"},{"x":-0.69,"y":0.13,"g":"Digestive"},{"x":1.71,"y":0.53,"g":"Digestive"},
{"x":-1.42,"y":-0.10,"g":"Immune"},{"x":-2.09,"y":-0.29,"g":"Immune"},{"x":-0.98,"y":-0.46,"g":"Immune"},{"x":-2.14,"y":-0.74,"g":"Immune"},{"x":-1.70,"y":-0.66,"g":"Immune"},{"x":-1.43,"y":-0.70,"g":"Immune"},{"x":-1.08,"y":-0.77,"g":"Immune"},{"x":-1.04,"y":-0.92,"g":"Immune"},{"x":-2.39,"y":-1.02,"g":"Immune"},{"x":-1.85,"y":-1.19,"g":"Immune"},{"x":-1.19,"y":-1.26,"g":"Immune"},{"x":-1.66,"y":-1.37,"g":"Immune"},{"x":-1.28,"y":-1.44,"g":"Immune"},{"x":-4.13,"y":-0.83,"g":"Immune"},{"x":-3.56,"y":-1.49,"g":"Immune"},{"x":-2.91,"y":-1.52,"g":"Immune"},{"x":-3.63,"y":-2.10,"g":"Immune"},{"x":-2.27,"y":-1.91,"g":"Immune"},{"x":-3.11,"y":-2.53,"g":"Immune"},{"x":-3.83,"y":-2.72,"g":"Immune"},{"x":-3.31,"y":-2.75,"g":"Immune"},{"x":-3.70,"y":-2.99,"g":"Immune"},{"x":-3.82,"y":-3.75,"g":"Immune"},{"x":-4.13,"y":-4.84,"g":"Immune"},{"x":-4.15,"y":-4.92,"g":"Immune"},{"x":-4.23,"y":-5.16,"g":"Immune"},{"x":-0.41,"y":-0.61,"g":"Immune"},
{"x":2.42,"y":-0.86,"g":"Fibroblast"},{"x":1.93,"y":-1.04,"g":"Fibroblast"},{"x":2.29,"y":-1.24,"g":"Fibroblast"},{"x":2.69,"y":-1.32,"g":"Fibroblast"},{"x":1.71,"y":-1.45,"g":"Fibroblast"},{"x":2.35,"y":-1.60,"g":"Fibroblast"},{"x":2.44,"y":-1.80,"g":"Fibroblast"},{"x":2.58,"y":-2.09,"g":"Fibroblast"},{"x":4.00,"y":0.14,"g":"Fibroblast"},{"x":6.40,"y":-1.53,"g":"Fibroblast"},{"x":6.60,"y":-1.39,"g":"Fibroblast"},{"x":4.61,"y":-3.96,"g":"Fibroblast"},{"x":2.94,"y":-4.40,"g":"Fibroblast"},{"x":3.07,"y":-5.03,"g":"Fibroblast"},
{"x":4.35,"y":-2.05,"g":"Endothelial"},{"x":4.75,"y":-2.19,"g":"Endothelial"},{"x":5.09,"y":-2.16,"g":"Endothelial"},{"x":5.34,"y":-2.12,"g":"Endothelial"},{"x":2.05,"y":-2.50,"g":"Endothelial"},{"x":2.09,"y":-2.70,"g":"Endothelial"},
{"x":-0.30,"y":-2.35,"g":"Epithelial"},{"x":-1.26,"y":-3.28,"g":"Epithelial"},{"x":0.90,"y":-3.85,"g":"Epithelial"},{"x":0.96,"y":-4.19,"g":"Epithelial"},{"x":0.40,"y":-4.75,"g":"Epithelial"},{"x":3.01,"y":5.92,"g":"Epithelial"},{"x":1.62,"y":-1.77,"g":"Epithelial"},
{"x":-6.06,"y":0.16,"g":"Other"},{"x":-5.98,"y":0.16,"g":"Other"},{"x":3.58,"y":-0.36,"g":"Other"},{"x":3.65,"y":-0.25,"g":"Other"},{"x":-1.79,"y":1.80,"g":"Other"}
]
},
"vconcat": [
{
"width": 1161, "height": 253.3,
"title": {"text": "Batch Effects in Distribution of DHS Intensities Due to Generation of Data by Multiple Centers", "frame": "group", "anchor": "middle", "dx": 8, "offset": -19.5, "font": "Lato", "fontSize": 19.5, "fontWeight": "bold", "color": "#767171"},
"resolve": {"scale": {"color": "independent"}},
"layer": [
{"data": {"name": "samples"},
 "mark": {"type": "rule", "color": "#000000", "strokeWidth": 1.5, "strokeDash": [2, 1.2]},
 "encoding": {
  "x": {"field": "s", "type": "quantitative", "title": "Samples", "scale": {"domain": [-3.86, 285.7], "nice": false, "zero": false},
        "axis": {"domain": false, "ticks": false, "labels": false, "grid": false, "title": "Samples", "titleX": 596, "titleY": -8, "titleBaseline": "middle", "titleFont": "Lato", "titleFontSize": 19, "titleFontWeight": "normal", "titleColor": "#7f7f7f"}},
  "y": {"field": "lo", "type": "quantitative", "title": ["DHS Intensity", "-log10(p)"], "scale": {"domain": [1, 8], "nice": false, "zero": false},
        "axis": {"values": [1, 2, 3, 4, 5, 6, 7, 8], "tickCount": 8, "labelOverlap": false, "labelBound": false, "offset": -7, "domainColor": "#a6a6a6", "domainWidth": 2, "tickColor": "#a6a6a6", "tickWidth": 2, "tickSize": 11, "labelFont": "Lato", "labelFontSize": 20, "labelColor": "#7f7f7f", "labelPadding": 10, "grid": false, "title": ["DHS Intensity", "-log10(p)"], "titleFont": "Lato", "titleFontSize": 18, "titleFontWeight": "normal", "titleColor": "#7f7f7f", "titleLineHeight": 28, "titlePadding": 18, "titleY": 140}},
  "y2": {"field": "hi"}
 }},
{"data": {"name": "samples"},
 "mark": {"type": "bar", "orient": "vertical", "width": 3, "stroke": "#000000", "strokeWidth": 0.9},
 "encoding": {
  "x": {"field": "s", "type": "quantitative", "title": "Samples"},
  "y": {"field": "q1", "type": "quantitative", "title": ["DHS Intensity", "-log10(p)"], "axis": {"values": [1, 2, 3, 4, 5, 6, 7, 8], "labelOverlap": false}},
  "y2": {"field": "q3"},
  "color": {"field": "g", "type": "nominal", "legend": null, "scale": {"domain": ["ENCODE", "Roadmap", "GGR", "Blueprint"], "range": ["#1a6e1a", "#5c2a62", "#4a7378", "#950c0c"]}}
 }},
{"data": {"values": [{"name": "ENCODE", "start": 0.5, "end": 125.5, "mid": 63}, {"name": "Roadmap", "start": 125.5, "end": 236.5, "mid": 181}, {"name": "GGR", "start": 236.5, "end": 254.5, "mid": 245.5}, {"name": "Blueprint", "start": 254.5, "end": 285.7, "mid": 270.5}]},
 "layer": [
  {"mark": {"type": "rect"},
   "encoding": {
    "x": {"field": "start", "type": "quantitative", "title": "Samples"},
    "x2": {"field": "end"},
    "y": {"datum": 8.49},
    "y2": {"datum": 7.83},
    "color": {"field": "name", "type": "nominal", "legend": null, "scale": {"domain": ["ENCODE", "Roadmap", "GGR", "Blueprint"], "range": ["#00b050", "#8224b0", "#0b9fc7", "#a80000"]}}
   }},
  {"mark": {"type": "text", "color": "#ffffff", "font": "Lato", "fontSize": 23, "fontWeight": "bold", "baseline": "middle", "align": "center"},
   "encoding": {
    "x": {"field": "mid", "type": "quantitative", "title": "Samples"},
    "y": {"datum": 8.16},
    "text": {"field": "name"}
   }}
 ]},
{"data": {"values": [{"letter": "A"}]},
 "mark": {"type": "text", "font": "Liberation Sans", "fontSize": 26, "fontWeight": "bold", "color": "#000000", "align": "left", "baseline": "top"},
 "encoding": {"x": {"datum": -19.5}, "y": {"datum": 9.589}, "text": {"field": "letter"}}}
]
},
{
"hconcat": [
{
"width": 537, "height": 453,
"view": {"stroke": "#595959", "strokeWidth": 1.5},
"title": {"text": "Before Removing Batch Effects", "frame": "group", "anchor": "middle", "offset": -18.5, "font": "Lato", "fontSize": 19.5, "fontWeight": "bold", "color": "#767171"},
"resolve": {"scale": {"color": "independent"}},
"layer": [
{"data": {"name": "bpts"},
 "mark": {"type": "point", "filled": true, "size": 20, "opacity": 1},
 "encoding": {
  "x": {"field": "x", "type": "quantitative", "scale": {"domain": [-21.27, 24.05], "nice": false, "zero": false},
        "axis": {"values": [-20, -10, 0, 10, 20], "domain": false, "grid": false, "tickColor": "#333333", "tickSize": 4, "labelFont": "Liberation Sans", "labelFontSize": 10, "labelColor": "#4d4d4d", "labelPadding": 2, "title": "tSNE 1", "titleFont": "Lato", "titleFontSize": 24, "titleFontWeight": "normal", "titleColor": "#808080", "titlePadding": 9}},
  "y": {"field": "y", "type": "quantitative", "scale": {"domain": [-27.7, 44.8], "nice": false, "zero": false},
        "axis": {"values": [-20, 0, 20, 40], "domain": false, "grid": false, "tickColor": "#333333", "tickSize": 4, "labelFont": "Liberation Sans", "labelFontSize": 10, "labelColor": "#4d4d4d", "labelPadding": 2, "title": "tSNE 2", "titleFont": "Lato", "titleFontSize": 24, "titleFontWeight": "normal", "titleColor": "#808080", "titlePadding": 13}},
  "color": {"field": "g", "type": "nominal", "legend": null, "scale": {"domain": ["Blueprint", "GGR", "ENCODE", "Roadmap"], "range": ["#f8766d", "#00bfc4", "#7cae00", "#c77cff"]}}
 }},
{"data": {"values": [{"x": 2.33, "y": 37.4}]},
 "mark": {"type": "point", "filled": false, "opacity": 1, "color": "#1f9bc9", "strokeWidth": 2.6, "size": 5242, "shape": "M 0.878 0 C 0.878 0.552 0.485 1 0 1 C -0.485 1 -0.878 0.552 -0.878 0 C -0.878 -0.552 -0.485 -1 0 -1 C 0.485 -1 0.878 -0.552 0.878 0 Z"},
 "encoding": {"x": {"field": "x", "type": "quantitative"}, "y": {"field": "y", "type": "quantitative"}}},
{"data": {"values": [{"x": -8.45, "y": 22.65}]},
 "mark": {"type": "point", "filled": false, "opacity": 1, "color": "#a31515", "strokeWidth": 2.6, "size": 42025, "shape": "M 1 0 C 1 0.291 0.552 0.527 0 0.527 C -0.552 0.527 -1 0.291 -1 0 C -1 -0.291 -0.552 -0.527 0 -0.527 C 0.552 -0.527 1 -0.291 1 0 Z"},
 "encoding": {"x": {"field": "x", "type": "quantitative"}, "y": {"field": "y", "type": "quantitative"}}},
{"data": {"values": [{"x": -4.1, "y": -2.15}]},
 "mark": {"type": "point", "filled": false, "opacity": 1, "color": "#7030a0", "strokeWidth": 2.6, "size": 138384, "shape": "M 1 0 C 1 0.254 0.552 0.459 0 0.459 C -0.552 0.459 -1 0.254 -1 0 C -1 -0.254 -0.552 -0.459 0 -0.459 C 0.552 -0.459 1 -0.254 1 0 Z"},
 "encoding": {"x": {"field": "x", "type": "quantitative"}, "y": {"field": "y", "type": "quantitative"}}},
{"data": {"values": [{"x": 6.95, "y": -8.3}]},
 "mark": {"type": "point", "filled": false, "opacity": 1, "color": "#00b050", "strokeWidth": 2.6, "size": 163216, "angle": 21.6, "shape": "M 1 0 C 1 0.288 0.552 0.521 0 0.521 C -0.552 0.521 -1 0.288 -1 0 C -1 -0.288 -0.552 -0.521 0 -0.521 C 0.552 -0.521 1 -0.288 1 0 Z"},
 "encoding": {"x": {"field": "x", "type": "quantitative"}, "y": {"field": "y", "type": "quantitative"}}},
{"data": {"values": [{"label": "GGR", "x": 7.8, "y": 37.9}, {"label": "Blueprint", "x": -8.4, "y": 34.4}, {"label": "ENCODE", "x": 11.2, "y": 13.0}, {"label": "Roadmap", "x": -12.2, "y": -17.5}]},
 "mark": {"type": "text", "font": "Lato", "fontSize": 24, "baseline": "middle", "align": "center"},
 "encoding": {"x": {"field": "x", "type": "quantitative"}, "y": {"field": "y", "type": "quantitative"}, "text": {"field": "label"},
  "color": {"field": "label", "type": "nominal", "legend": null, "scale": {"domain": ["GGR", "Blueprint", "ENCODE", "Roadmap"], "range": ["#1f9bc9", "#a31515", "#00b050", "#7030a0"]}}}},
{"data": {"values": [{"letter": "B"}]},
 "mark": {"type": "text", "font": "Liberation Sans", "fontSize": 26, "fontWeight": "bold", "color": "#000000", "align": "left", "baseline": "top"},
 "encoding": {"x": {"datum": -26.25}, "y": {"datum": 50.96}, "text": {"field": "letter"}}}
]
},
{
"width": 531, "height": 453,
"view": {"stroke": null},
"title": {"text": "After Removing Batch Effects and Merging Replicates", "frame": "group", "anchor": "middle", "offset": -15.5, "font": "Lato", "fontSize": 19.5, "fontWeight": "bold", "color": "#767171"},
"resolve": {"scale": {"color": "independent"}},
"layer": [
{"data": {"name": "cpts"},
 "mark": {"type": "point", "filled": true, "size": 34, "opacity": 1},
 "encoding": {
  "x": {"field": "x", "type": "quantitative", "scale": {"domain": [-6.69, 7.1], "nice": false, "zero": false},
        "axis": {"values": [-4, 0, 4], "domain": true, "domainColor": "#000000", "domainWidth": 2, "grid": false, "tickColor": "#333333", "tickSize": 5, "labelFont": "Liberation Sans", "labelFontSize": 17, "labelColor": "#4d4d4d", "labelPadding": 3, "title": "tSNE 1", "titleFont": "Lato", "titleFontSize": 24, "titleFontWeight": "normal", "titleColor": "#808080", "titlePadding": 10}},
  "y": {"field": "y", "type": "quantitative", "scale": {"domain": [-5.777, 6.685], "nice": false, "zero": false},
        "axis": {"values": [-3, 0, 3, 6], "domain": true, "domainColor": "#000000", "domainWidth": 2, "grid": false, "tickColor": "#333333", "tickSize": 5, "labelFont": "Liberation Sans", "labelFontSize": 17, "labelColor": "#4d4d4d", "labelPadding": 4, "title": "tSNE 2", "titleFont": "Lato", "titleFontSize": 24, "titleFontWeight": "normal", "titleColor": "#808080", "titlePadding": 12}},
  "color": {"field": "g", "type": "nominal", "legend": null, "scale": {"domain": ["CNS", "Digestive", "Endothelial", "Epithelial", "Other", "Fibroblast", "Immune", "Kidney", "Muscle"], "range": ["#f8766d", "#d39200", "#a3a500", "#39b600", "#00c08b", "#00bfc4", "#00b0f6", "#9590ff", "#f564e3"]}}
 }},
{"data": {"values": [{"x": -6.69, "x2": 7.1, "y": 6.685}]},
 "mark": {"type": "rule", "color": "#000000", "strokeWidth": 2},
 "encoding": {"x": {"field": "x", "type": "quantitative"}, "x2": {"field": "x2"}, "y": {"field": "y", "type": "quantitative"}}},
{"data": {"values": [{"x": -3.96, "y": 3.99}]},
 "mark": {"type": "point", "filled": false, "opacity": 1, "color": "#9590ff", "strokeWidth": 1.4, "size": 5580, "shape": "M 1 0 C 1 0.509 0.552 0.922 0 0.922 C -0.552 0.922 -1 0.509 -1 0 C -1 -0.509 -0.552 -0.922 0 -0.922 C 0.552 -0.922 1 -0.509 1 0 Z"},
 "encoding": {"x": {"field": "x", "type": "quantitative"}, "y": {"field": "y", "type": "quantitative"}}},
{"data": {"values": [{"x": 0.06, "y": 3.56}]},
 "mark": {"type": "point", "filled": false, "opacity": 1, "color": "#f07b72", "strokeWidth": 1.4, "size": 46483, "angle": -15.6, "shape": "M 0.675 0 C 0.675 0.552 0.373 1 0 1 C -0.373 1 -0.675 0.552 -0.675 0 C -0.675 -0.552 -0.373 -1 0 -1 C 0.373 -1 0.675 -0.552 0.675 0 Z"},
 "encoding": {"x": {"field": "x", "type": "quantitative"}, "y": {"field": "y", "type": "quantitative"}}},
{"data": {"values": [{"x": -2.31, "y": 0.88}]},
 "mark": {"type": "point", "filled": false, "opacity": 1, "color": "#c49a00", "strokeWidth": 1.4, "size": 23470, "angle": 15.7, "shape": "M 1 0 C 1 0.191 0.552 0.346 0 0.346 C -0.552 0.346 -1 0.191 -1 0 C -1 -0.191 -0.552 -0.346 0 -0.346 C 0.552 -0.346 1 -0.191 1 0 Z"},
 "encoding": {"x": {"field": "x", "type": "quantitative"}, "y": {"field": "y", "type": "quantitative"}}},
{"data": {"values": [{"x": -2.97, "y": -2.21}]},
 "mark": {"type": "point", "filled": false, "opacity": 1, "color": "#00a9ff", "strokeWidth": 1.4, "size": 63807, "angle": -52.4, "shape": "M 1 0 C 1 0.319 0.552 0.577 0 0.577 C -0.552 0.577 -1 0.319 -1 0 C -1 -0.319 -0.552 -0.577 0 -0.577 C 0.552 -0.577 1 -0.319 1 0 Z"},
 "encoding": {"x": {"field": "x", "type": "quantitative"}, "y": {"field": "y", "type": "quantitative"}}},
{"data": {"values": [{"x": 2.40, "y": -1.34}]},
 "mark": {"type": "point", "filled": false, "opacity": 1, "color": "#52bdb9", "strokeWidth": 1.4, "size": 4706, "shape": "M 0.956 0 C 0.956 0.552 0.528 1 0 1 C -0.528 1 -0.956 0.552 -0.956 0 C -0.956 -0.552 -0.528 -1 0 -1 C 0.528 -1 0.956 -0.552 0.956 0 Z"},
 "encoding": {"x": {"field": "x", "type": "quantitative"}, "y": {"field": "y", "type": "quantitative"}}},
{"data": {"values": [{"x": 4.50, "y": 2.88}]},
 "mark": {"type": "point", "filled": false, "opacity": 1, "color": "#ef67ea", "strokeWidth": 1.4, "size": 5127, "angle": -41.2, "shape": "M 1 0 C 1 0.350 0.552 0.634 0 0.634 C -0.552 0.634 -1 0.350 -1 0 C -1 -0.350 -0.552 -0.634 0 -0.634 C 0.552 -0.634 1 -0.350 1 0 Z"},
 "encoding": {"x": {"field": "x", "type": "quantitative"}, "y": {"field": "y", "type": "quantitative"}}},
{"data": {"values": [{"x": 4.85, "y": -2.0}]},
 "mark": {"type": "point", "filled": false, "opacity": 1, "color": "#a3a500", "strokeWidth": 1.4, "size": 4199, "shape": "M 1 0 C 1 0.466 0.552 0.843 0 0.843 C -0.552 0.843 -1 0.466 -1 0 C -1 -0.466 -0.552 -0.843 0 -0.843 C 0.552 -0.843 1 -0.466 1 0 Z"},
 "encoding": {"x": {"field": "x", "type": "quantitative"}, "y": {"field": "y", "type": "quantitative"}}},
{"data": {"values": [{"x": 0.08, "y": -3.54}]},
 "mark": {"type": "point", "filled": false, "opacity": 1, "color": "#1aa64a", "strokeWidth": 1.4, "size": 16900, "angle": 35.2, "shape": "M 1 0 C 1 0.363 0.552 0.658 0 0.658 C -0.552 0.658 -1 0.363 -1 0 C -1 -0.363 -0.552 -0.658 0 -0.658 C 0.552 -0.658 1 -0.363 1 0 Z"},
 "encoding": {"x": {"field": "x", "type": "quantitative"}, "y": {"field": "y", "type": "quantitative"}}},
{"data": {"values": [{"label": "Kidney", "x": -4.23, "y": 5.33, "g": "Kidney"}, {"label": "Central Nervous", "x": 3.92, "y": 5.21, "g": "CNS"}, {"label": "System (CNS)", "x": 3.91, "y": 4.33, "g": "CNS"}, {"label": "Digestive", "x": -3.59, "y": 2.17, "g": "Digestive"}, {"label": "Muscle", "x": 5.05, "y": 1.60, "g": "Muscle"}, {"label": "Immune", "x": -5.36, "y": -0.22, "g": "Immune"}, {"label": "Fibroblast", "x": 1.85, "y": -0.02, "g": "Fibroblast"}, {"label": "Endothelial", "x": 5.13, "y": -0.83, "g": "Endothelial"}, {"label": "Epithelial", "x": 0.30, "y": -5.30, "g": "Epithelial"}]},
 "mark": {"type": "text", "font": "Lato", "fontSize": 24, "fontWeight": "bold", "baseline": "middle", "align": "center"},
 "encoding": {"x": {"field": "x", "type": "quantitative"}, "y": {"field": "y", "type": "quantitative"}, "text": {"field": "label"},
  "color": {"field": "g", "type": "nominal", "legend": null, "scale": {"domain": ["Kidney", "CNS", "Digestive", "Muscle", "Immune", "Fibroblast", "Endothelial", "Epithelial"], "range": ["#9590ff", "#f07470", "#c8950a", "#f070e6", "#00a8f0", "#5cc6c0", "#a3a200", "#13b04b"]}}}},
{"data": {"values": [{"letter": "C"}]},
 "mark": {"type": "text", "font": "Liberation Sans", "fontSize": 26, "fontWeight": "bold", "color": "#000000", "align": "left", "baseline": "top"},
 "encoding": {"x": {"datum": -7.99}, "y": {"datum": 7.744}, "text": {"field": "letter"}}}
]
}
],
"spacing": 92,
"bounds": "flush"
}
],
"spacing": 86,
"bounds": "flush"
}
